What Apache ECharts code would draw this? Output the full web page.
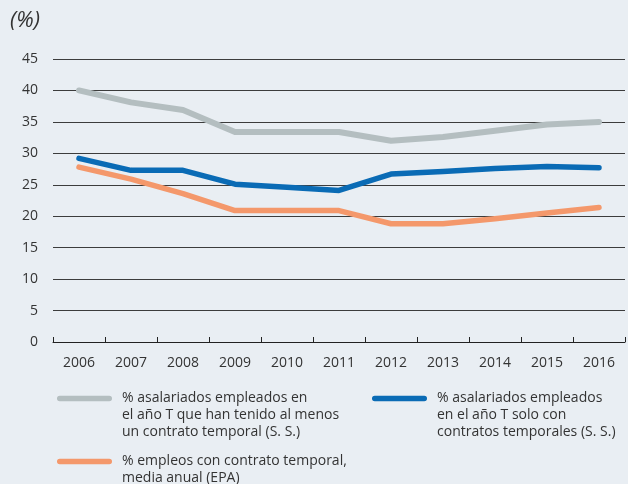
<!DOCTYPE html>
<html>
<head>
<meta charset="utf-8">
<script src="https://cdn.jsdelivr.net/npm/echarts@6/dist/echarts.min.js"></script>
<style>
  html, body { margin: 0; padding: 0; background: #e9eef3; }
  #chart { width: 628px; height: 484px; }
</style>
</head>
<body>
<div id="chart"></div>
<script>
var years = ['2006', '2007', '2008', '2009', '2010', '2011', '2012', '2013', '2014', '2015', '2016'];
var yTicks = [0, 5, 10, 15, 20, 25, 30, 35, 40, 45];

// % asalariados con al menos un contrato temporal (S. S.)
var alMenosUno = [40.0, 38.1, 36.9, 33.4, 33.4, 33.4, 32.0, 32.6, 33.6, 34.6, 35.0];
// % asalariados solo con contratos temporales (S. S.)
var soloTemporales = [29.2, 27.3, 27.3, 25.1, 24.6, 24.1, 26.7, 27.1, 27.6, 27.9, 27.7];
// % empleos con contrato temporal (EPA)
var epa = [27.8, 25.9, 23.6, 20.9, 20.9, 20.9, 18.8, 18.8, 19.6, 20.5, 21.4];

var names = [
  '% asalariados empleados en\nel año T que han tenido al menos\nun contrato temporal (S. S.)',
  '% asalariados empleados\nen el año T solo con\ncontratos temporales (S. S.)',
  '% empleos con contrato temporal,\nmedia anual (EPA)'
];
var colors = ['#b4bec0', '#0a6bb5', '#f4986b'];

var LH = 17;

var chartDom = document.getElementById('chart');
var myChart = echarts.init(chartDom, null, { renderer: 'canvas' });

// swatch drawn at the top of a tall icon box so it lines up with the first text line
function swatchIcon(lines) {
  var h = lines * LH;
  var y = LH / 2 - 2.75;
  return 'path://M2.75,' + y + 'h49.5a2.75,2.75 0 0 1 0,5.5h-49.5a2.75,2.75 0 0 1 0,-5.5z' +
    'M59.9,0h0.1v0.1h-0.1z M59.9,' + (h - 0.1) + 'h0.1v0.1h-0.1z';
}

function legendFor(i, left, top, lines) {
  return {
    left: left,
    top: top,
    orient: 'vertical',
    padding: 0,
    itemWidth: 60,
    itemHeight: lines * LH,
    itemGap: 0,
    icon: swatchIcon(lines),
    selectedMode: false,
    data: [{ name: names[i], itemStyle: { color: colors[i] } }],
    textStyle: {
      fontFamily: 'Open Sans',
      fontSize: 14,
      lineHeight: LH,
      color: '#333'
    }
  };
}

function lineSeries(i, values, w) {
  return {
    name: names[i],
    type: 'line',
    data: values,
    symbol: 'none',
    itemStyle: { color: colors[i] },
    lineStyle: { color: colors[i], width: w, cap: 'round', join: 'round' },
    emphasis: { disabled: true }
  };
}

var option = {
  backgroundColor: '#e9eef3',
  animation: false,
  textStyle: { fontFamily: 'Open Sans' },
  title: {
    text: '(%)',
    left: 5,
    top: 5,
    textStyle: { fontFamily: 'Open Sans', fontSize: 22, fontStyle: 'italic', fontWeight: 'normal', color: '#333' }
  },
  legend: [
    legendFor(0, 57, 390, 3),
    legendFor(1, 372, 390, 3),
    legendFor(2, 57, 453, 2)
  ],
  grid: { left: 53, right: 3, top: 59, bottom: 142, containLabel: false },
  xAxis: {
    type: 'category',
    data: years,
    boundaryGap: true,
    axisLine: { lineStyle: { color: '#222', width: 1 } },
    axisTick: { show: true, inside: true, length: 5, lineStyle: { color: '#222' } },
    axisLabel: { margin: 14, fontSize: 14, color: '#333', fontFamily: 'Open Sans' }
  },
  yAxis: {
    type: 'value',
    min: yTicks[0],
    max: yTicks[yTicks.length - 1],
    interval: 5,
    axisLine: { show: false },
    axisTick: { show: false },
    axisLabel: { margin: 15, fontSize: 14, color: '#333', fontFamily: 'Open Sans' },
    splitLine: { lineStyle: { color: '#3c3c3c', width: 1 } }
  },
  series: [
    lineSeries(0, alMenosUno, 6),
    lineSeries(1, soloTemporales, 5.5),
    lineSeries(2, epa, 5.5)
  ]
};

myChart.setOption(option);
window.addEventListener('resize', myChart.resize);
</script>
</body>
</html>
